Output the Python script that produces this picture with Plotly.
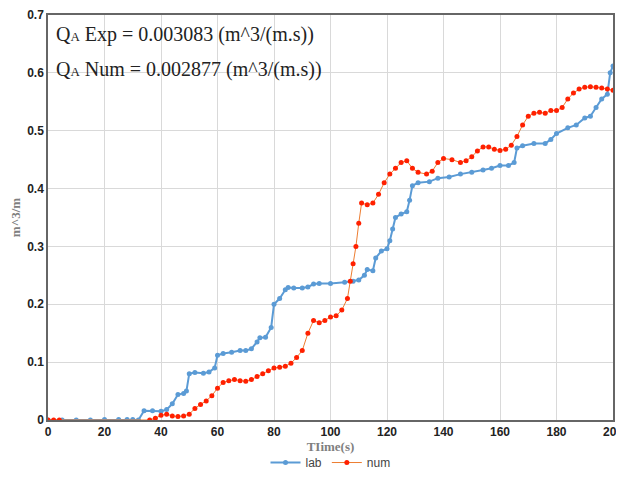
import plotly.graph_objects as go

# lab data
lab_t = [0, 5, 10, 15, 20, 25, 28, 30, 32, 34, 37, 40, 42, 44, 46, 48, 49, 50, 52, 55, 57, 59, 60, 62, 65, 68,
         70, 72, 74, 75, 77, 79, 80, 82, 84, 85, 87, 90, 92, 94, 96, 100, 105, 108, 110, 112, 113, 115, 116,
         118, 120, 121, 122, 123, 125, 127, 128, 129, 131, 135, 138, 142, 146, 150, 154, 157, 160, 163, 165,
         166, 168, 172, 176, 178, 180, 184, 187, 190, 192, 194, 196, 198, 199, 200]
lab_q = [0, 0, 0, 0, 0.001, 0.001, 0.001, 0.001, 0, 0.016, 0.016, 0.015, 0.018, 0.028, 0.044, 0.046, 0.05,
         0.08, 0.082, 0.081, 0.083, 0.09, 0.112, 0.115, 0.117, 0.12, 0.12, 0.123, 0.135, 0.142, 0.143, 0.16,
         0.2, 0.21, 0.225, 0.229, 0.228, 0.228, 0.23, 0.235, 0.236, 0.236, 0.238, 0.24, 0.242, 0.25, 0.26,
         0.258, 0.28, 0.292, 0.296, 0.31, 0.33, 0.35, 0.356, 0.36, 0.38, 0.405, 0.41, 0.412, 0.418, 0.42,
         0.425, 0.428, 0.432, 0.435, 0.44, 0.44, 0.445, 0.47, 0.474, 0.478, 0.478, 0.485, 0.495, 0.505, 0.51,
         0.522, 0.525, 0.54, 0.555, 0.563, 0.6, 0.612]

# numerical data
num_t = [0, 2, 4, 36, 38, 40, 42, 44, 46, 48, 50, 52, 54, 56, 58, 60, 62, 64, 66, 68, 70, 72, 74, 76, 78, 80,
         82, 84, 86, 88, 90, 92, 94, 96, 98, 100, 102, 104, 106, 107, 108, 109, 110, 111, 113, 115, 117, 119,
         121, 123, 125, 127, 129, 131, 134, 136, 138, 140, 143, 146, 148, 150, 152, 154, 156, 158, 160, 162,
         164, 166, 168, 170, 172, 174, 176, 178, 180, 182, 184, 186, 188, 190, 192, 194, 196, 198, 200]
num_q = [0, 0, 0, 0, 0.003, 0.008, 0.01, 0.007, 0.006, 0.007, 0.01, 0.02, 0.027, 0.033, 0.042, 0.055, 0.065,
         0.068, 0.07, 0.068, 0.067, 0.07, 0.075, 0.08, 0.085, 0.09, 0.091, 0.093, 0.098, 0.108, 0.12, 0.15,
         0.172, 0.168, 0.172, 0.178, 0.18, 0.19, 0.21, 0.24, 0.27, 0.3, 0.34, 0.375, 0.372, 0.375, 0.39, 0.41,
         0.425, 0.435, 0.445, 0.448, 0.435, 0.428, 0.425, 0.43, 0.445, 0.452, 0.45, 0.445, 0.448, 0.455,
         0.465, 0.472, 0.472, 0.468, 0.466, 0.468, 0.475, 0.49, 0.51, 0.525, 0.53, 0.532, 0.53, 0.535, 0.535,
         0.54, 0.555, 0.565, 0.572, 0.575, 0.576, 0.575, 0.574, 0.572, 0.57]

fig = go.Figure()
fig.add_trace(go.Scatter(x=lab_t, y=lab_q, name='lab', mode='lines+markers',
                         line=dict(color='#5b9bd5', width=2), marker=dict(size=5, color='#5b9bd5')))
fig.add_trace(go.Scatter(x=num_t, y=num_q, name='num', mode='lines+markers',
                         line=dict(color='#ed7d31', width=1), marker=dict(size=5, color='#ff2000')))

fig.add_annotation(x=0.01, y=0.985, xref='paper', yref='paper', xanchor='left', yanchor='top', showarrow=False,
                   text='Q<span style="font-size:13px">A</span> Exp = 0.003083 (m^3/(m.s))',
                   font=dict(family='Liberation Serif', size=20, color='#222'))
fig.add_annotation(x=0.01, y=0.9, xref='paper', yref='paper', xanchor='left', yanchor='top', showarrow=False,
                   text='Q<span style="font-size:13px">A</span> Num = 0.002877 (m^3/(m.s))',
                   font=dict(family='Liberation Serif', size=20, color='#222'))

fig.update_layout(
    width=616, height=484,
    margin=dict(l=40, r=11, t=7, b=72, autoexpand=False),
    paper_bgcolor='white', plot_bgcolor='white',
    font=dict(family='Liberation Serif', size=12, color='#333'),
    legend=dict(orientation='h', x=0.5, xanchor='center', y=-0.105, yanchor='middle',
                font=dict(family='Liberation Sans', size=12, color='#444')))
fig.update_xaxes(range=[0, 200], dtick=20, showgrid=True, gridcolor='#d9d9d9',
                 showline=True, linecolor='#666', linewidth=1.5, mirror=True, zeroline=False,
                 tickfont=dict(family='Liberation Sans', size=12, color='#222', weight='bold'),
                 title=dict(text='<b>TIime(s)</b>', font=dict(size=13, color='#7f7f7f'), standoff=2))
fig.update_yaxes(range=[0, 0.7], dtick=0.1, showgrid=True, gridcolor='#d9d9d9',
                 showline=True, linecolor='#666', linewidth=1.5, mirror=True, zeroline=False,
                 tickfont=dict(family='Liberation Sans', size=12, color='#222', weight='bold'),
                 title=dict(text='<b>m^3/m</b>', font=dict(size=13, color='#7f7f7f'), standoff=4))

fig.write_html('out.html')
